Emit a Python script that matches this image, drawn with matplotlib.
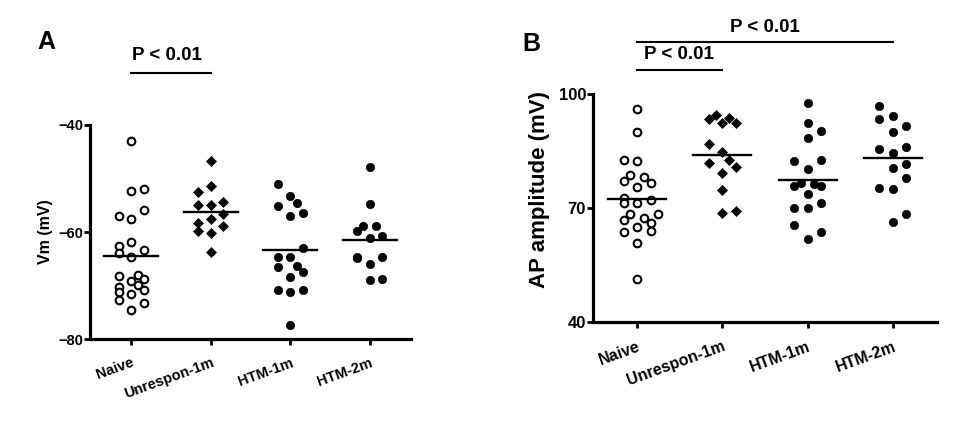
import matplotlib
matplotlib.use('Agg')
import matplotlib.pyplot as plt
import numpy as np

plt.rcParams['font.family'] = ['Liberation Sans', 'DejaVu Sans']
plt.rcParams['font.weight'] = 'bold'

groups = ['Naive', 'Unrespon-1m', 'HTM-1m', 'HTM-2m']

# Panel A: resting membrane potential (mV)
vm_naive = [-42.9, -52.3, -51.9, -55.9, -57.1, -57.6, -61.8, -62.7, -63.4, -63.9, -64.6, -68.2,
            -68.0, -69.1, -68.7, -69.9, -70.2, -70.8, -71.3, -71.5, -72.7, -73.2, -74.6]
vm_unres = [-46.7, -51.4, -52.6, -55.0, -55.0, -54.3, -56.7, -57.6, -58.4, -58.9, -59.8, -60.2, -63.8]
vm_htm1 = [-51.0, -53.3, -54.5, -55.1, -57.0, -56.5, -63.0, -64.6, -64.6, -66.5, -66.3, -67.4,
           -68.4, -70.8, -71.3, -70.8, -77.3]
vm_htm2 = [-47.9, -54.8, -59.8, -58.9, -58.9, -61.2, -60.7, -64.6, -64.9, -64.7, -65.9, -69.0, -68.8]

# Panel B: AP amplitude (mV)
ap_naive = [96.0, 90.0, 82.7, 82.3, 78.6, 77.1, 78.1, 76.6, 75.5, 72.7, 71.3, 71.3, 72.0, 68.3,
            68.5, 66.9, 67.4, 66.0, 64.9, 63.6, 63.9, 60.8, 51.3]
ap_unres = [93.3, 94.4, 92.3, 93.6, 92.4, 86.8, 84.7, 82.6, 81.9, 80.8, 79.2, 74.8, 68.8, 69.3]
ap_htm1 = [97.7, 92.4, 90.3, 88.3, 82.3, 82.6, 80.2, 75.9, 76.6, 76.2, 75.9, 73.8, 70.1, 69.9,
           71.4, 65.6, 63.6, 61.9]
ap_htm2 = [96.8, 93.3, 94.2, 90.0, 91.5, 85.5, 84.6, 86.1, 81.7, 80.6, 78.0, 75.2, 74.9, 66.4, 68.3]

# horizontal scatter offsets (category units)
jit_vm_naive = [0, 0, .16, .16, -.16, 0, 0, -.16, .16, -.16, 0, -.16, .08, 0, .16, .08, -.16, .16,
                -.16, 0, -.16, .16, 0]
jit_vm_unres = [0, 0, -.16, -.16, 0, .16, .16, 0, -.16, .16, -.16, 0, 0]
jit_vm_htm1 = [-.16, 0, .09, -.16, 0, .16, .16, -.16, 0, -.16, .08, .16, 0, -.16, 0, .16, 0]
jit_vm_htm2 = [0, 0, -.16, -.08, .08, 0, .16, -.16, -.16, .16, 0, 0, .16]

jit_ap_naive = [0, 0, -.16, 0, -.08, -.16, .08, .16, 0, -.16, -.16, 0, .16, -.08, .24, -.16, .08,
                .16, 0, -.16, .16, 0, 0]
jit_ap_unres = [-.16, -.08, 0, .08, .16, -.16, 0, .08, -.16, .16, 0, 0, 0, .16]
jit_ap_htm1 = [0, 0, .16, 0, -.16, .16, 0, -.16, -.08, .08, .16, 0, -.16, 0, .16, -.16, .16, 0]
jit_ap_htm2 = [-.16, -.16, 0, 0, .16, -.16, 0, .16, .16, 0, .16, -.16, 0, 0, .16]

W, H = 961, 421
fig = plt.figure(figsize=(W / 100, H / 100), dpi=100)

styles = [dict(marker='o', mfc='white', mec='black', mew=1.5, ms=5.5),
          dict(marker='D', mfc='black', mec='black', mew=0.5, ms=5.0),
          dict(marker='o', mfc='black', mec='black', mew=0.5, ms=6.0),
          dict(marker='o', mfc='black', mec='black', mew=0.5, ms=6.0)]


def draw(ax, data, jits, ylim, yticks, ylabel, tick_fs, xlab_fs, ylab_fs, meanhw):
    for i, (vals, jit) in enumerate(zip(data, jits)):
        x = i + np.array(jit)
        ax.plot(x, vals, linestyle='none', clip_on=False, zorder=3, **styles[i])
        m = np.mean(vals)
        ax.plot([i - meanhw, i + meanhw], [m, m], color='black', lw=1.7, zorder=4)
    ax.set_ylim(*ylim)
    ax.set_yticks(yticks)
    ax.set_xticks(range(len(groups)))
    ax.set_xticklabels(groups)
    for s in ['top', 'right']:
        ax.spines[s].set_visible(False)
    for s in ['left', 'bottom']:
        ax.spines[s].set_linewidth(2.3)
    ax.tick_params(axis='both', width=2.0, length=4, direction='out')
    ax.tick_params(axis='y', labelsize=tick_fs, pad=1)
    ax.tick_params(axis='x', labelsize=xlab_fs, pad=8)
    for lab in ax.get_xticklabels():
        lab.set_rotation(20)
        lab.set_ha('right')
        lab.set_rotation_mode('anchor')
        lab.set_fontweight('bold')
    for lab in ax.get_yticklabels():
        lab.set_fontweight('bold')
    ax.set_ylabel(ylabel, fontsize=ylab_fs, fontweight='bold')


# Panel A
axA = fig.add_axes([90 / W, 1 - 339 / H, (411 - 90) / W, 214 / H])
draw(axA, [vm_naive, vm_unres, vm_htm1, vm_htm2],
     [jit_vm_naive, jit_vm_unres, jit_vm_htm1, jit_vm_htm2],
     (-80, -40), [-80, -60, -40], 'Vm (mV)', 10.5, 10.5, 11.5, 0.34)
axA.set_xlim(-0.52, 3.52)
axA.yaxis.set_label_coords(-0.115, 0.5)
axA.plot([0, 1], [-30.3, -30.3], color='black', lw=1.5, clip_on=False)
axA.text(0.45, -27.0, 'P < 0.01', ha='center', va='center', fontsize=13.5, fontweight='bold')
fig.text(46 / W, 1 - 42 / H, 'A', ha='center', va='center', fontsize=18, fontweight='bold')

# Panel B
axB = fig.add_axes([593 / W, 1 - 322 / H, (937 - 593) / W, 228 / H])
draw(axB, [ap_naive, ap_unres, ap_htm1, ap_htm2],
     [jit_ap_naive, jit_ap_unres, jit_ap_htm1, jit_ap_htm2],
     (40, 100), [40, 70, 100], 'AP amplitude (mV)', 12, 11.5, 16, 0.34)
axB.set_xlim(-0.52, 3.52)
axB.yaxis.set_label_coords(-0.125, 0.58)
axB.plot([0, 1], [106.2, 106.2], color='black', lw=1.5, clip_on=False)
axB.text(0.49, 110.4, 'P < 0.01', ha='center', va='center', fontsize=13.5, fontweight='bold')
axB.plot([0, 3], [113.7, 113.7], color='black', lw=1.5, clip_on=False)
axB.text(1.5, 117.5, 'P < 0.01', ha='center', va='center', fontsize=13.5, fontweight='bold')
fig.text(531 / W, 1 - 44 / H, 'B', ha='center', va='center', fontsize=18, fontweight='bold')

fig.savefig('out.png', dpi=100)
